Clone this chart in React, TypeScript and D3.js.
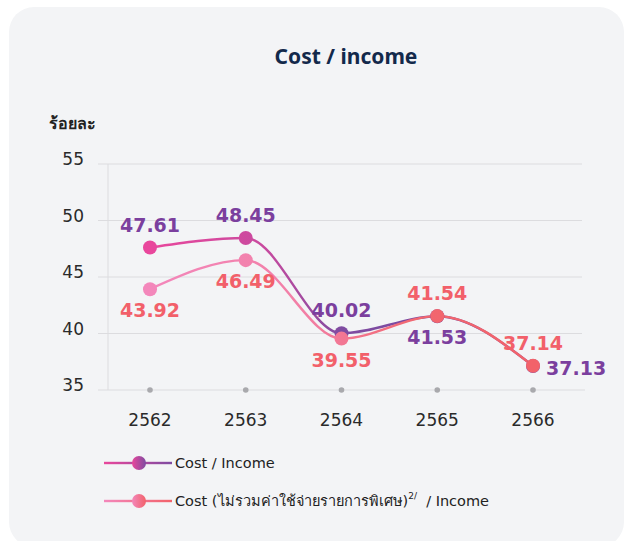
import { useEffect, useRef } from 'react'
import * as d3 from 'd3'

const years = ['2562', '2563', '2564', '2565', '2566']
const costIncome = [47.61, 48.45, 40.02, 41.53, 37.13]
const costIncomeExcl = [43.92, 46.49, 39.55, 41.54, 37.14]
const yTicks = [35, 40, 45, 50, 55]
// where each value label sits: 'a' above, 'b' below, 'r' right
const costLabelPos = ['a', 'a', 'a', 'b', 'r']
const exclLabelPos = ['b', 'b', 'b', 'a', 'a']

const W = 628
const H = 541

const App = () => {
  const svgRef = useRef<SVGSVGElement>(null)

  useEffect(() => {
    const svg = d3.select(svgRef.current)
    svg.selectAll('*').remove()

    const font = "'Noto Sans', 'Open Sans', sans-serif"
    const wide = "'DejaVu Sans', 'Noto Sans', sans-serif"

    const x = d3.scalePoint().domain(years).range([150, 533])
    const y = d3.scaleLinear().domain([35, 55]).range([390, 164])

    const defs = svg.append('defs')
    const grad = (id, stops) => {
      const g = defs.append('linearGradient')
        .attr('id', id)
        .attr('gradientUnits', 'userSpaceOnUse')
        .attr('x1', 150).attr('x2', 533).attr('y1', 0).attr('y2', 0)
      stops.forEach(([o, c]) => g.append('stop').attr('offset', o).attr('stop-color', c))
    }
    grad('g1', [[0, '#e9479c'], [0.3, '#c84a9f'], [0.5, '#7e4ba1'], [1, '#7a4aa0']])
    grad('g2', [[0, '#f387bb'], [0.4, '#f27fa6'], [0.7, '#f2676f'], [1, '#f2626a']])
    const lg1 = defs.append('linearGradient').attr('id', 'lg1')
    lg1.append('stop').attr('offset', 0).attr('stop-color', '#e9479c')
    lg1.append('stop').attr('offset', 1).attr('stop-color', '#7e4ba1')
    const lg2 = defs.append('linearGradient').attr('id', 'lg2')
    lg2.append('stop').attr('offset', 0).attr('stop-color', '#f387bb')
    lg2.append('stop').attr('offset', 1).attr('stop-color', '#f2626a')

    // card
    svg.append('rect')
      .attr('x', 9).attr('y', 7)
      .attr('width', 615).attr('height', 540)
      .attr('rx', 25)
      .attr('fill', '#f3f4f6')

    svg.append('text')
      .attr('x', 346).attr('y', 64)
      .attr('text-anchor', 'middle')
      .style('font-family', font)
      .style('font-size', '21px')
      .style('font-weight', 700)
      .style('fill', '#13294b')
      .text('Cost / income')

    svg.append('text')
      .attr('x', 49).attr('y', 129)
      .style('font-family', font)
      .style('font-size', '16px')
      .style('font-weight', 600)
      .style('fill', '#222')
      .text('ร้อยละ')

    // grid
    yTicks.forEach(t => {
      svg.append('line')
        .attr('x1', 98).attr('x2', t === 35 ? 585 : 582)
        .attr('y1', y(t)).attr('y2', y(t))
        .attr('stroke', '#dcdcdf')
        .attr('stroke-width', 1)
      svg.append('text')
        .attr('x', 84).attr('y', y(t) + 1)
        .attr('text-anchor', 'end')
        .style('font-family', wide)
        .style('font-size', '17px')
        .style('fill', '#2a2a2a')
        .text(t)
    })
    svg.append('line')
      .attr('x1', 108).attr('x2', 108)
      .attr('y1', y(55)).attr('y2', y(35))
      .attr('stroke', '#dcdcdf')

    years.forEach(yr => {
      svg.append('circle')
        .attr('cx', x(yr)).attr('cy', y(35))
        .attr('r', 2.8)
        .attr('fill', '#a9a9ad')
      svg.append('text')
        .attr('x', x(yr)).attr('y', 426)
        .attr('text-anchor', 'middle')
        .style('font-family', wide)
        .style('font-size', '17px')
        .style('fill', '#2a2a2a')
        .text(yr)
    })

    const line = d3.line<number>()
      .x((d, i) => x(years[i]))
      .y(d => y(d))
      .curve(d3.curveMonotoneX)

    const series = [
      { values: costIncomeExcl, grad: 'g2', label: '#f2606a', pos: exclLabelPos },
      { values: costIncome, grad: 'g1', label: '#7b3f9e', pos: costLabelPos }
    ]
    const drawOrder = [series[1], series[0]]
    drawOrder.forEach(s => {
      svg.append('path')
        .datum(s.values)
        .attr('fill', 'none')
        .attr('stroke', `url(#${s.grad})`)
        .attr('stroke-width', 2.4)
        .attr('d', line)
    })
    drawOrder.forEach(s => {
      s.values.forEach((v, i) => {
        svg.append('circle')
          .attr('cx', x(years[i])).attr('cy', y(v))
          .attr('r', 7)
          .attr('fill', `url(#${s.grad})`)
      })
    })
    drawOrder.forEach(s => {
      s.values.forEach((v, i) => {
        const p = s.pos[i]
        const cx = x(years[i])
        const cy = y(v)
        svg.append('text')
          .attr('x', p === 'r' ? cx + 13 : cx)
          .attr('y', p === 'a' ? cy - 16 : p === 'b' ? cy + 28 : cy + 9)
          .attr('text-anchor', p === 'r' ? 'start' : 'middle')
          .style('font-family', wide)
          .style('font-size', '19px')
          .style('font-weight', 700)
          .style('fill', s.label)
          .text(v.toFixed(2))
      })
    })

    // legend
    const legendItems = [
      { grad: 'lg1', pre: 'Cost / Income', sup: '', post: '' },
      { grad: 'lg2', pre: 'Cost (ไม่รวมค่าใช้จ่ายรายการพิเศษ)', sup: '2/', post: '  / Income' }
    ]
    legendItems.forEach((item, i) => {
      const g = svg.append('g').attr('transform', `translate(104, ${463 + i * 38})`)
      g.append('rect')
        .attr('x', 0).attr('y', -1.2)
        .attr('width', 68).attr('height', 2.4)
        .attr('fill', `url(#${item.grad})`)
      g.append('circle').attr('cx', 35).attr('cy', 0).attr('r', 7)
        .attr('fill', `url(#${item.grad})`)
      const t = g.append('text')
        .attr('x', 71).attr('y', 5)
        .style('font-family', wide)
        .style('font-size', '14.5px')
        .style('fill', '#222')
      t.append('tspan').text(item.pre)
      if (item.sup) {
        t.append('tspan').attr('dy', -7).style('font-size', '9px').text(item.sup)
        t.append('tspan').attr('dy', 7).style('white-space', 'pre').text(item.post)
      }
    })
  }, [])

  return (
    <svg ref={svgRef} width={W} height={H} style={{ display: 'block', position: 'absolute', left: 0, top: 0 }}></svg>
  )
}

export default App
